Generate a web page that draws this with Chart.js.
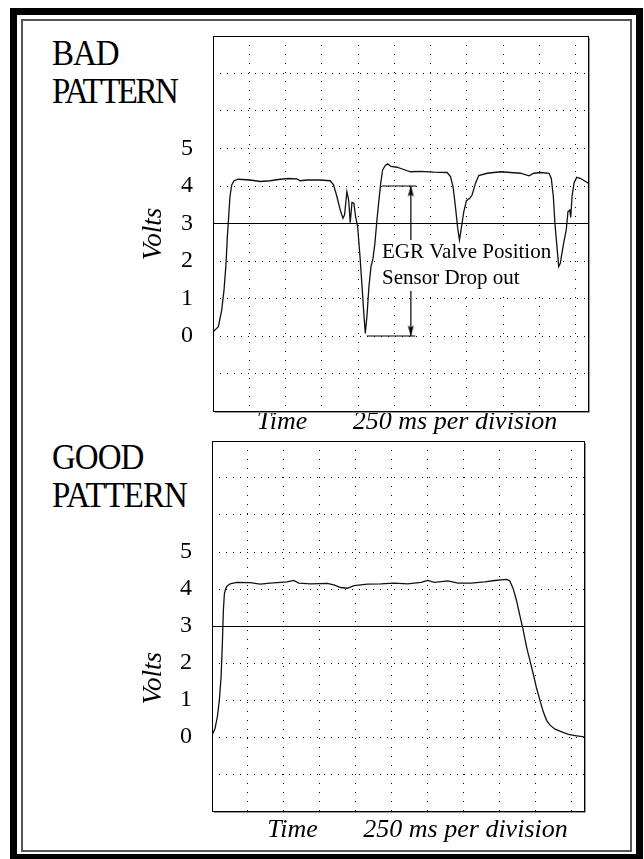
<!DOCTYPE html>
<html>
<head>
<meta charset="utf-8">
<title>EGR valve position sensor patterns</title>
<script src="https://cdn.jsdelivr.net/npm/chart.js@4.4.1/dist/chart.umd.min.js"></script>
<style>
  body { margin: 0; background: #fff; }
  #page { position: relative; width: 644px; height: 859px; overflow: hidden; background: #fff;
          font-family: 'Liberation Serif', 'Times New Roman', serif; color: #000; }
  #frame-outer { position: absolute; left: 10px; top: 8px; width: 633px; height: 851px; box-sizing: border-box;
                 border: 7px solid #000; border-bottom-width: 5px; }
  #frame-inner { position: absolute; left: 21px; top: 19px; width: 611px; height: 833px; box-sizing: border-box;
                 border: 2px solid #555; }
  .pattern-title { position: absolute; left: 52px; font-size: 33px; line-height: 35px; white-space: nowrap;
                   transform: scaleY(1.1); transform-origin: 0 100%; }
  .pattern-title span { display: block; }
  canvas { position: absolute; left: 0; }
</style>
</head>
<body>
<div id="page">
  <div id="frame-outer"></div>
  <div id="frame-inner"></div>
  <div class="pattern-title" style="top:41px"><span style="letter-spacing:-1px">BAD</span><span style="letter-spacing:-2.5px">PATTERN</span></div>
  <div class="pattern-title" style="top:445px"><span style="letter-spacing:-1px">GOOD</span><span style="letter-spacing:-1px">PATTERN</span></div>
  <canvas id="bad-chart" width="644" height="445" style="top:0"></canvas>
  <canvas id="good-chart" width="644" height="429" style="top:430px"></canvas>
</div>
<script>
const FONT = "'Liberation Serif', 'Times New Roman', serif";

// scope traces, time in ms (250 ms per division), volts
const badTime = [2, 37, 60, 76, 90, 99, 108, 117, 129, 145, 175, 256, 325, 394, 463, 520, 578, 601, 647, 739,
  808, 831, 854, 877, 896, 907, 923, 935, 946, 958, 971, 983, 997, 1015, 1029, 1041, 1050, 1061, 1075, 1089,
  1103, 1116, 1130, 1144, 1156, 1169, 1188, 1204, 1227, 1268, 1315, 1361, 1430, 1522, 1614, 1637, 1655, 1671,
  1687, 1699, 1710, 1729, 1747, 1770, 1786, 1809, 1832, 1890, 1982, 2051, 2120, 2178, 2212, 2258, 2316, 2332,
  2346, 2357, 2369, 2383, 2394, 2415, 2435, 2447, 2459, 2466, 2475, 2489, 2507, 2535, 2588];
const badVolts = [0.12, 0.25, 0.69, 1.23, 1.94, 2.65, 3.18, 3.72, 4.03, 4.14, 4.18, 4.16, 4.12, 4.14, 4.18, 4.20,
  4.19, 4.14, 4.16, 4.16, 4.14, 4.03, 3.72, 3.36, 3.14, 3.23, 3.85, 3.63, 3.02, 3.56, 3.54, 3.18, 2.92, 2.03,
  1.23, 0.52, 0.07, 0.52, 1.32, 1.85, 2.07, 2.47, 3.09, 3.63, 4.07, 4.43, 4.55, 4.59, 4.52, 4.50, 4.44, 4.38,
  4.39, 4.37, 4.36, 4.25, 3.98, 3.45, 2.87, 2.56, 2.83, 3.32, 3.61, 3.67, 3.76, 4.07, 4.28, 4.34, 4.38, 4.36,
  4.34, 4.27, 4.34, 4.36, 4.34, 4.20, 3.72, 3.00, 2.47, 1.85, 1.94, 2.43, 2.83, 3.32, 3.36, 3.16, 3.72, 4.09,
  4.23, 4.20, 4.07];

const goodTime = [5, 21, 37, 51, 63, 72, 79, 86, 93, 102, 126, 172, 265, 335, 405, 475, 521, 568, 603, 684, 801,
  847, 894, 940, 987, 1080, 1173, 1266, 1359, 1453, 1499, 1546, 1639, 1709, 1802, 1895, 1965, 2046, 2069, 2093,
  2116, 2139, 2163, 2186, 2209, 2232, 2256, 2279, 2302, 2325, 2349, 2384, 2430, 2477, 2523, 2593];
const goodVolts = [0.09, 0.23, 0.54, 0.99, 1.62, 2.52, 3.42, 3.87, 3.98, 4.07, 4.14, 4.18, 4.17, 4.13, 4.16, 4.18,
  4.19, 4.23, 4.16, 4.14, 4.15, 4.11, 4.04, 4.02, 4.09, 4.13, 4.14, 4.16, 4.14, 4.18, 4.23, 4.18, 4.22, 4.16,
  4.16, 4.19, 4.23, 4.26, 4.22, 4.01, 3.69, 3.29, 2.88, 2.43, 2.07, 1.71, 1.31, 0.99, 0.68, 0.45, 0.32, 0.21,
  0.14, 0.07, 0.04, 0.00];

const voltTicks = [0, 1, 2, 3, 4, 5];
const timeTitle = ['Time', '250 ms per division'];

// drop-out marker on the bad trace
const dropArrowTime = [1364, 1364];
const dropArrowVolts = [4, 0];
const dropTopTime = [1165, 1402];
const dropTopVolts = [4, 4];
const dropBottomTime = [1061, 1395];
const dropBottomVolts = [0, 0];
const dropNoteLines = ['EGR Valve Position', 'Sensor Drop out'];
const dropNoteVolts = [2.08, 1.39];
const dropNoteTime = 1165;

const toPoints = (xs, ys) => xs.map((x, i) => ({x, y: ys[i]}));

// arrow head with its tip in the middle of the image
const arrowHead = document.createElement('canvas');
arrowHead.width = 9;
arrowHead.height = 25;
const ah = arrowHead.getContext('2d');
ah.fillStyle = '#000';
ah.beginPath();
ah.moveTo(4.5, 12.5);
ah.lineTo(7.5, 23);
ah.lineTo(4.5, 21);
ah.lineTo(1.5, 23);
ah.closePath();
ah.fill();

const plotBox = {
    id: 'plotBox',
    afterDatasetsDraw(chart) {
        const {ctx, chartArea: a} = chart;
        ctx.save();
        ctx.lineWidth = 1;
        ctx.strokeStyle = '#999';
        ctx.beginPath();
        ctx.moveTo(a.right + 1.5, a.top + 2);
        ctx.lineTo(a.right + 1.5, a.bottom + 1.5);
        ctx.lineTo(a.left + 2, a.bottom + 1.5);
        ctx.stroke();
        ctx.strokeStyle = '#000';
        ctx.strokeRect(a.left + 0.5, a.top + 0.5, a.right - a.left, a.bottom - a.top);
        ctx.restore();
    }
};

const voltsLabel = {
    id: 'voltsLabel',
    afterDraw(chart, args, opts) {
        const {ctx} = chart;
        const y = chart.scales.y.getPixelForValue(opts.value);
        ctx.save();
        ctx.translate(chart.chartArea.left - opts.gap, y);
        ctx.rotate(-Math.PI / 2);
        ctx.font = `italic 27px ${FONT}`;
        ctx.fillStyle = '#000';
        ctx.textAlign = 'center';
        ctx.textBaseline = 'middle';
        ctx.fillText('Volts', 0, 0);
        ctx.restore();
    }
};

// white label box sits over the arrow but under the trace (dataset 0 is drawn last)
const dropNote = {
    id: 'dropNote',
    afterDatasetDraw(chart, args) {
        if (args.index !== 1) return;
        const {ctx, scales: {x, y}} = chart;
        ctx.save();
        ctx.font = `21px ${FONT}`;
        const left = x.getPixelForValue(dropNoteTime);
        const widest = Math.max(...dropNoteLines.map(t => ctx.measureText(t).width));
        const base0 = y.getPixelForValue(dropNoteVolts[0]);
        const base1 = y.getPixelForValue(dropNoteVolts[dropNoteVolts.length - 1]);
        ctx.fillStyle = '#fff';
        ctx.fillRect(left - 2, base0 - 18, widest + 3, base1 - base0 + 25);
        ctx.fillStyle = '#000';
        ctx.textBaseline = 'alphabetic';
        dropNoteLines.forEach((t, i) => ctx.fillText(t, left, y.getPixelForValue(dropNoteVolts[i])));
        ctx.restore();
    }
};

const makeScope = (canvasId, cfg) => new Chart(document.getElementById(canvasId), {
    type: 'line',
    data: {datasets: cfg.datasets},
    options: {
        responsive: false,
        animation: false,
        events: [],
        layout: {padding: cfg.padding},
        plugins: {
            legend: {display: false},
            tooltip: {enabled: false},
            voltsLabel: cfg.volts
        },
        scales: {
            x: {
                type: 'linear',
                min: 0,
                max: 2585,
                ticks: {stepSize: 250, display: false, includeBounds: false},
                grid: {color: '#000', lineWidth: 1, drawTicks: false},
                border: {display: false, dash: [1, 8]},
                title: {
                    display: true,
                    text: ' '.repeat(cfg.titleLead) + timeTitle.join(' '.repeat(7)),
                    color: '#000',
                    font: {family: FONT, size: 26, style: 'italic', lineHeight: 1},
                    padding: {top: 0, bottom: cfg.titlePad}
                },
                afterFit: s => { s.height = cfg.xHeight; s.paddingLeft = 0; s.paddingRight = 0; }
            },
            y: {
                type: 'linear',
                min: -2,
                max: 8,
                ticks: {
                    stepSize: 1,
                    padding: 20,
                    color: '#000',
                    font: {family: FONT, size: 24},
                    callback: v => voltTicks.includes(v) ? String(v) : ''
                },
                grid: {color: '#000', lineWidth: 1, drawTicks: false},
                border: {display: false, dash: ctx => (ctx.tick && ctx.tick.value === 3) ? [] : [1, 6]},
                afterFit: s => { s.width = cfg.yWidth; s.paddingTop = 0; s.paddingBottom = 0; }
            }
        }
    },
    plugins: cfg.plugins
});

const trace = (xs, ys) => ({
    data: toPoints(xs, ys),
    borderColor: '#111',
    borderWidth: 1.3,
    pointRadius: 0,
    tension: 0,
    fill: false
});

const marker = (xs, ys, extra) => Object.assign({
    data: toPoints(xs, ys),
    borderColor: '#000',
    borderWidth: 1.2,
    pointRadius: 0,
    fill: false
}, extra);

makeScope('bad-chart', {
    datasets: [
        trace(badTime, badVolts),
        marker(dropArrowTime, dropArrowVolts, {pointRadius: 4, pointStyle: arrowHead, pointRotation: [0, 180]}),
        marker(dropTopTime, dropTopVolts),
        marker(dropBottomTime, dropBottomVolts)
    ],
    padding: {left: 0, right: 56, top: 36, bottom: 0},
    yWidth: 213,
    xHeight: 34,
    titleLead: 2,
    titlePad: 10,
    volts: {value: 2.72, gap: 59},
    plugins: [plotBox, voltsLabel, dropNote]
});

makeScope('good-chart', {
    datasets: [trace(goodTime, goodVolts)],
    padding: {left: 0, right: 60, top: 11, bottom: 0},
    yWidth: 212,
    xHeight: 48,
    titleLead: 6,
    titlePad: 16,
    volts: {value: 1.59, gap: 58},
    plugins: [plotBox, voltsLabel]
});
</script>
</body>
</html>
